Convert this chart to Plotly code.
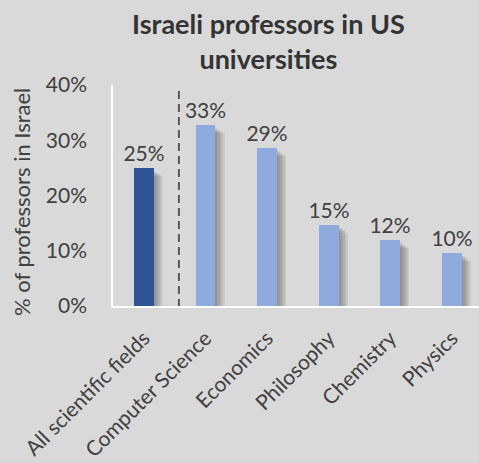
import plotly.graph_objects as go

# Share of professors based in Israel, by field
categories = ["All scientific fields", "Computer Science", "Economics",
              "Philosophy", "Chemistry", "Physics"]
shares = [0.249, 0.327, 0.286, 0.147, 0.119, 0.096]
bar_colors = ["#2F5597", "#8FAADC", "#8FAADC", "#8FAADC", "#8FAADC", "#8FAADC"]
y_ticks = [0.0, 0.1, 0.2, 0.3, 0.4]

BG = "#d9d9d9"
TXT = "#404040"
FONT = "Lato"
BAR_W = 0.32

fig = go.Figure()

# soft drop shadow: stacked, offset, translucent grey layers behind each bar
for i in range(6):
    shift = 0.025 * (i + 1)
    fig.add_trace(go.Bar(
        x=categories, y=[v + 0.004 - 0.002 * i for v in shares], base=-0.008,
        width=BAR_W, offset=-BAR_W / 2 + shift,
        marker=dict(color="rgba(50,50,50,0.09)", line=dict(width=0)),
        hoverinfo="skip", showlegend=False,
    ))

fig.add_trace(go.Bar(
    x=categories, y=shares, width=BAR_W, offset=-BAR_W / 2,
    marker=dict(color=bar_colors, line=dict(width=0)),
    texttemplate="%{y:.0%}", textposition="outside", constraintext="none",
    textfont=dict(family=FONT, size=21, color=TXT),
    cliponaxis=False, showlegend=False,
))

# dashed separator between the overall figure and individual fields
fig.add_shape(type="line", xref="x", yref="y", x0=0.57, x1=0.57,
              y0=-0.049, y1=0.391,
              line=dict(color="#595959", width=2, dash="8px,5px"))

fig.add_annotation(
    text="% of professors in Israel", textangle=-90,
    xref="paper", yref="paper", x=-92 / 366, y=(306 - 202) / 221,
    xanchor="center", yanchor="middle", showarrow=False,
    font=dict(family=FONT, size=22, color=TXT),
)

fig.add_annotation(
    text="<b>Israeli professors in US<br>universities</b>",
    xref="paper", yref="paper", x=(268 - 113) / 366, y=1 + (85 - 5) / 221,
    xanchor="center", yanchor="top", showarrow=False,
    font=dict(family=FONT, size=27, color="#333333"),
)

fig.update_layout(
    width=479, height=463,
    margin=dict(l=113, r=0, t=85, b=157),
    paper_bgcolor=BG, plot_bgcolor=BG,
    barmode="overlay", bargap=0,
    xaxis=dict(
        range=[-0.5, 5.44], showgrid=False, zeroline=False,
        showline=True, linecolor="white", linewidth=1.5,
        tickangle=-45, tickfont=dict(family=FONT, size=21, color=TXT),
        ticks="", ticklabelstandoff=10,
    ),
    yaxis=dict(
        range=[0, 0.4], tickvals=y_ticks, tickformat=".0%",
        showgrid=False, zeroline=False,
        showline=True, linecolor="white", linewidth=1.5,
        tickfont=dict(family=FONT, size=21, color=TXT),
        ticks="", ticklabelstandoff=20,
    ),
)

fig.write_html("out.html")
